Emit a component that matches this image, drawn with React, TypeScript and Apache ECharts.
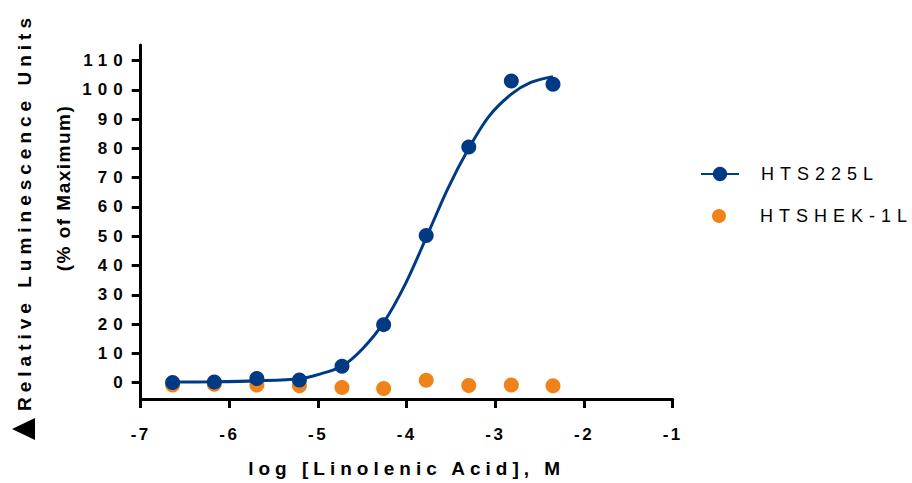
import React, { useEffect, useRef } from "react";
import * as echarts from "echarts";

// log concentration of linolenic acid (M), 3-fold dilutions
const logConc = [-6.64, -6.17, -5.69, -5.21, -4.73, -4.26, -3.78, -3.3, -2.82, -2.35];
// % of maximum response
const hts225L = [0.0, 0.2, 1.4, 0.9, 5.6, 19.8, 50.2, 80.5, 103.0, 101.9];
const htshek1L = [-0.8, -0.6, -0.8, -1.1, -1.7, -2.0, 0.8, -1.0, -0.8, -1.1];
// fitted curve for HTS225L
const fitX = [-6.64, -6.17, -5.69, -5.21, -4.97, -4.73, -4.5, -4.26, -4.01, -3.78, -3.54, -3.3, -3.07, -2.82, -2.6, -2.35];
const fitY = [0.2, 0.3, 0.6, 1.3, 3.0, 5.6, 11.5, 20.5, 34, 49.5, 66, 80, 91, 98.5, 102.5, 104.5];
// y tick labels
const yTicks = [0, 10, 20, 30, 40, 50, 60, 70, 80, 90, 100, 110];
const xMin = -7;
const xMax = -1;

const BLUE = "#003A85";
const ORANGE = "#F0821A";
const FONT = "Liberation Sans";

const css = `
body { margin: 0; }
.chart text { letter-spacing: 5px; }
.chart text[fill="#010101"] { letter-spacing: 6px; }
.chart text[fill="#020202"] { letter-spacing: 1.5px; }
.chart text[fill="#030303"] { letter-spacing: 2.5px; }
.chart text[fill="#040404"] { letter-spacing: 6px; }
`;

export default function App() {
  const ref = useRef<HTMLDivElement>(null);
  useEffect(() => {
    const chart = echarts.init(ref.current!, null, { renderer: "svg" });
    const axisLine = { show: true, onZero: false, lineStyle: { color: "#000", width: 3 } };
    const axisTick = { show: true, length: 9, lineStyle: { color: "#000", width: 3 } };
    chart.setOption({
      animation: false,
      textStyle: { fontFamily: FONT },
      grid: { left: 140.7, right: 239.3, top: 45, bottom: 81.5, containLabel: false },
      xAxis: {
        type: "value",
        min: xMin,
        max: xMax,
        interval: 1,
        axisLine,
        axisTick,
        splitLine: { show: false },
        axisLabel: { color: "#030303", fontSize: 17, fontWeight: "bold", margin: 27, fontFamily: FONT },
        name: "log [Linolenic Acid], M",
        nameLocation: "middle",
        nameGap: 60,
        nameTextStyle: { color: "#000", fontSize: 19, fontWeight: "bold", fontFamily: FONT },
      },
      yAxis: {
        type: "value",
        min: -5.6,
        max: 115.3,
        axisLine,
        axisTick: { ...axisTick, customValues: yTicks },
        splitLine: { show: false },
        axisLabel: { color: "#040404", fontSize: 17, fontWeight: "bold", margin: 12, customValues: yTicks, fontFamily: FONT },
      },
      legend: [
        {
          data: ["HTS225L"],
          left: 700,
          top: 165,
          padding: 0,
          itemWidth: 38,
          itemHeight: 18,
          selectedMode: false,
          textStyle: { fontSize: 18, color: "#010101", fontFamily: FONT, padding: [0, 0, 0, 17] },
        },
        {
          data: ["HTSHEK-1L"],
          left: 712,
          top: 207,
          padding: 0,
          itemWidth: 38,
          itemHeight: 14,
          selectedMode: false,
          itemStyle: { opacity: 1 },
          textStyle: { fontSize: 18, color: "#010101", fontFamily: FONT, padding: [0, 0, 0, 17] },
        },
      ],
      graphic: [
        {
          type: "text",
          x: 24.5,
          y: 212,
          rotation: Math.PI / 2,
          style: {
            text: "Relative Luminescence Units",
            fontSize: 19,
            fontWeight: "bold",
            fontFamily: FONT,
            fill: "#000",
            align: "center",
            verticalAlign: "middle",
          },
        },
        {
          type: "text",
          x: 63,
          y: 188,
          rotation: Math.PI / 2,
          style: {
            text: "(% of Maximum)",
            fontSize: 19,
            fontWeight: "bold",
            fontFamily: FONT,
            fill: "#020202",
            align: "center",
            verticalAlign: "middle",
          },
        },
        {
          type: "polygon",
          shape: { points: [[12, 429], [35, 418], [35, 440]] },
          style: { fill: "#000" },
        },
      ],
      series: [
        {
          type: "scatter",
          name: "HTSHEK-1L",
          data: logConc.map((x, i) => [x, htshek1L[i]]),
          symbol: "circle",
          symbolSize: 15,
          itemStyle: { color: ORANGE, opacity: 1 },
          z: 2,
        },
        {
          type: "line",
          name: "HTS225L",
          data: fitX.map((x, i) => [x, fitY[i]]),
          smooth: 0.3,
          showSymbol: false,
          symbol: "circle",
          symbolSize: 15,
          lineStyle: { width: 3, color: BLUE },
          itemStyle: { color: BLUE },
          z: 3,
        },
        {
          type: "scatter",
          name: "HTS225L",
          data: logConc.map((x, i) => [x, hts225L[i]]),
          symbol: "circle",
          symbolSize: 15,
          itemStyle: { color: BLUE, opacity: 1 },
          z: 4,
        },
      ],
    });
    return () => chart.dispose();
  }, []);
  return (
    <div>
      <style>{css}</style>
      <div ref={ref} className="chart" style={{ width: 912, height: 483 }} />
    </div>
  );
}
